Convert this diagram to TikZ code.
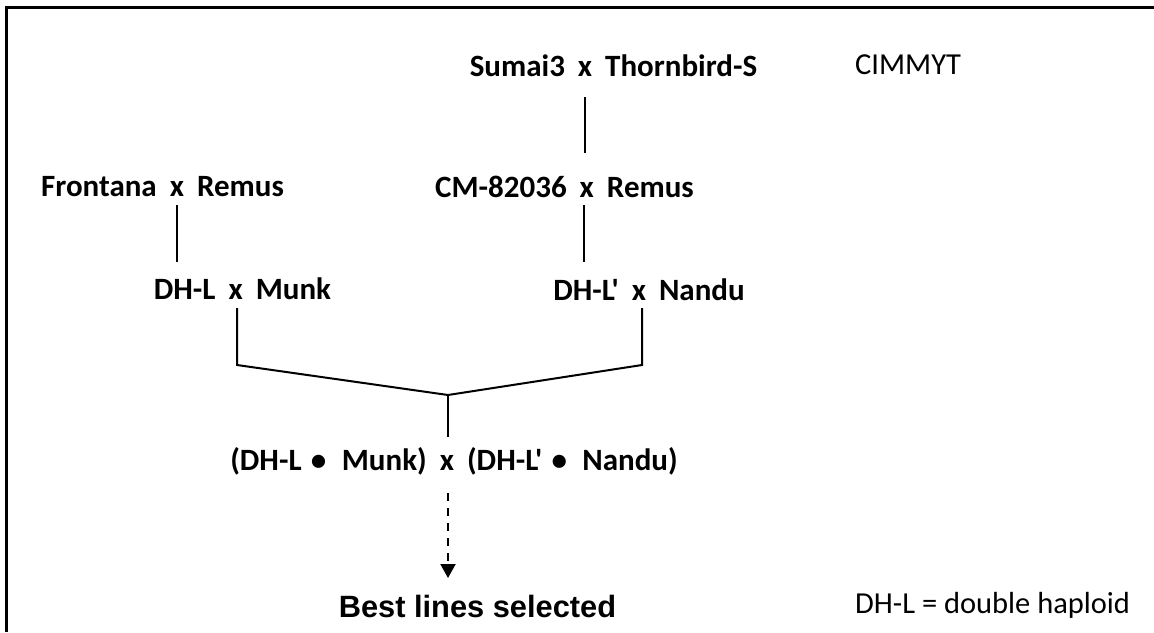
\documentclass[tikz,border=0pt]{standalone}
\usepackage{fontspec}
\newfontfamily\carlitofont{Carlito}
\newfontfamily\arialfont{Liberation Sans}
\usetikzlibrary{arrows.meta}
\newcommand{\X}{\hspace{0.42em}x\hspace{0.42em}}
\newcommand{\B}{\hspace{0.3em}\textbullet\hspace{0.5em}}
\begin{document}
\begin{tikzpicture}[x=1pt,y=-1pt,
  cross/.style={font=\carlitofont\bfseries\fontsize{31}{36}\selectfont, inner sep=0pt, anchor=base},
  note/.style={font=\carlitofont\fontsize{30.5}{36}\selectfont, inner sep=0pt, anchor=base west},
  link/.style={line width=2pt},
  sel/.style={line width=2pt, dash pattern=on 8pt off 7pt, -{Triangle[width=15pt,length=14pt]}}]
\useasboundingbox (0,0) rectangle (1154,632);
\draw[line width=2.5pt] (6.5,632) -- (6.5,7.5) -- (1154,7.5);

\node[cross] (sumai) at (613.5,76) {Sumai3\X Thornbird-S};
\node[note] (cimmyt) at (855,74) {CIMMYT};
\node[cross] (front) at (162.5,196) {Frontana\X Remus};
\node[cross] (cm) at (564.5,197) {CM-82036\X Remus};
\node[cross] (munk) at (242.5,299) {DH-L\X Munk};
\node[cross] (nandu) at (649,300) {DH-L'\X Nandu};
\node[cross] (f1) at (454,470) {(DH-L\B Munk)\X(DH-L'\B Nandu)};
\node[font=\arialfont\bfseries\fontsize{30.8}{36}\selectfont, inner sep=0pt, anchor=base] (best) at (477.5,617) {Best lines selected};
\node[note] (legend) at (855,613) {DH-L = double haploid};

\coordinate (sumaiB) at (585,97);
\coordinate (cmT) at (585,153);
\coordinate (cmB) at (584,205);
\coordinate (nanduT) at (584,262);
\coordinate (frontB) at (177,205);
\coordinate (munkT) at (177,262);
\coordinate (munkB) at (237,308);
\coordinate (munkC) at (237,365);
\coordinate (join) at (448,395);
\coordinate (nanduC) at (642,365);
\coordinate (nanduB) at (642,308);
\coordinate (f1T) at (448,437);
\coordinate (f1B) at (448,493);
\coordinate (bestT) at (448,578);

\draw[link] (sumaiB) -- (cmT);
\draw[link] (cmB) -- (nanduT);
\draw[link] (frontB) -- (munkT);
\draw[link] (munkB) -- (munkC) -- (join) -- (nanduC) -- (nanduB);
\draw[link] (join) -- (f1T);
\draw[sel] (f1B) -- (bestT);
\end{tikzpicture}
\end{document}
